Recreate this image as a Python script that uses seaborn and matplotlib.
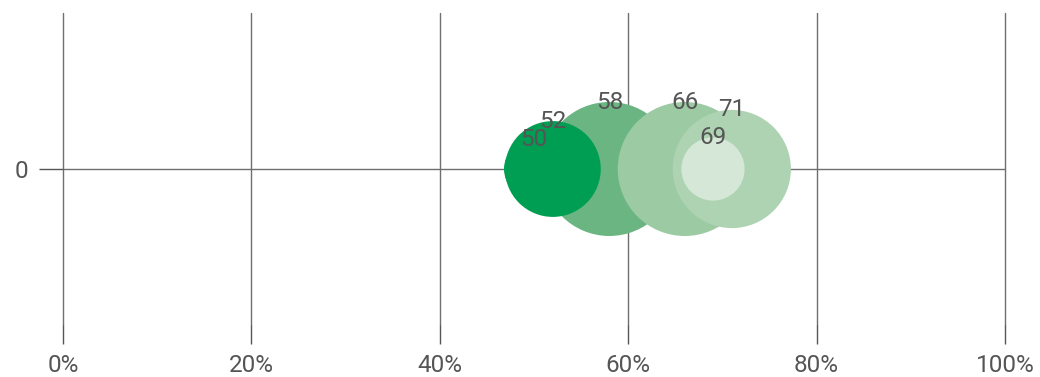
import matplotlib
matplotlib.use("Agg")
import matplotlib.pyplot as plt
import numpy as np
import pandas as pd
import seaborn as sns

# bubble values (x, in %), listed in drawing order
values = [50, 58, 66, 71, 52, 69]
labels = ["50", "58", "66", "71", "52", "69"]
# bubble weight (drives the bubble area)
weights = [9, 45, 45, 35, 23, 10]
colors = ["#009e53", "#6bb583", "#9ccaa3", "#aed3b2", "#009e53", "#d5e7d6"]

x_ticks = [0, 20, 40, 60, 80, 100]
x_tick_labels = ["0%", "20%", "40%", "60%", "80%", "100%"]

df = pd.DataFrame({"value": values, "label": labels, "weight": weights, "y": 0})

sns.set_theme(style="white")
plt.rcParams["font.family"] = ["Roboto", "DejaVu Sans"]

fig = plt.figure(figsize=(10.4, 3.77), dpi=100)
ax = fig.add_axes([63 / 1040, 52 / 377, 942 / 1040, 312 / 377])

sns.scatterplot(data=df, x="value", y="y", hue="label", palette=dict(zip(labels, colors)),
                size="weight", sizes=(1866, 9308), linewidth=0, alpha=1,
                legend=False, ax=ax, zorder=3)

ax.set_xlim(0, 100)
ax.set_ylim(-1, 1)
ax.set_xticks(x_ticks)
ax.set_xticklabels(x_tick_labels)
ax.set_yticks([0])
ax.set_yticklabels(["0"])
ax.set_xlabel("")
ax.set_ylabel("")

for s in ax.spines.values():
    s.set_visible(False)

ax.grid(True, color="#6f6f6f", linewidth=1)
ax.set_axisbelow(True)
for line in ax.get_xgridlines() + ax.get_ygridlines():
    line.set_clip_on(False)
ax.tick_params(axis="x", length=14, width=1, color="#555555", pad=7,
               labelsize=17.5, labelcolor="#555555", bottom=True)
ax.tick_params(axis="y", length=17, width=1, color="#555555", pad=8,
               labelsize=17.5, labelcolor="#555555", left=True)

# value labels centred on the top edge of each bubble
sizes = ax.collections[0].get_sizes()
for (_, row), s in zip(df.iterrows(), sizes):
    r = np.sqrt(s) / 2
    ax.annotate(row["label"], (row["value"], 0), xytext=(0, r), textcoords="offset points",
                ha="center", va="center", fontsize=17.5, color="#555555", zorder=4)

fig.savefig("out.png", dpi=100)
